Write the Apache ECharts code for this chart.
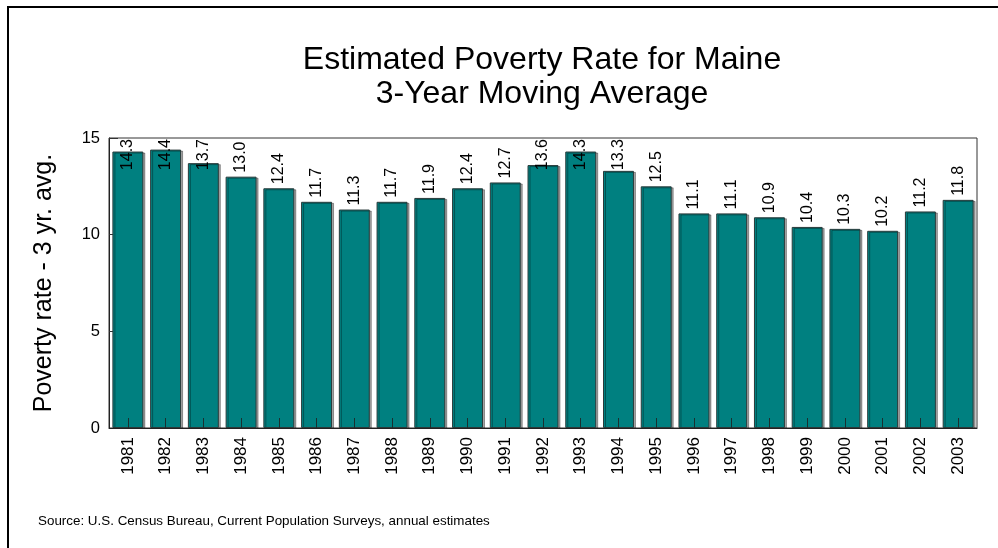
<!DOCTYPE html>
<html>
<head>
<meta charset="utf-8">
<script src="https://cdn.jsdelivr.net/npm/echarts@6/dist/echarts.min.js"></script>
<style>
  html, body { margin: 0; padding: 0; background: #fff; }
  #chart01 { width: 998px; height: 548px; }
</style>
</head>
<body>
<div id="chart01"></div>
<script>
// data
var years = ["1981", "1982", "1983", "1984", "1985", "1986", "1987", "1988", "1989", "1990", "1991", "1992",
             "1993", "1994", "1995", "1996", "1997", "1998", "1999", "2000", "2001", "2002", "2003"];
var rates = [14.3, 14.4, 13.7, 13.0, 12.4, 11.7, 11.3, 11.7, 11.9, 12.4, 12.7, 13.6,
             14.3, 13.3, 12.5, 11.1, 11.1, 10.9, 10.4, 10.3, 10.2, 11.2, 11.8];
var yTicks = [0, 5, 10, 15];

var font = "Liberation Sans, Arial, sans-serif";
var plotTop = 138;

var myChart01 = echarts.init(document.getElementById('chart01'));
var option = {
    animation: false,
    textStyle: { fontFamily: font, color: "#000" },
    title: {
        text: "Estimated Poverty Rate for Maine\n3-Year Moving Average",
        left: 537,
        top: 38,
        textAlign: "center",
        textStyle: { fontFamily: font, fontSize: 32, fontWeight: "normal", color: "#000", lineHeight: 34 }
    },
    graphic: [
        {
            type: "rect",
            shape: { x: 8, y: 7, width: 1000, height: 560 },
            style: { fill: null, stroke: "#000", lineWidth: 2 },
            silent: true
        },
        {
            type: "text",
            left: 38,
            top: 515,
            style: {
                text: "Source: U.S. Census Bureau, Current Population Surveys, annual estimates",
                fontFamily: font,
                fontSize: 13.4,
                fill: "#000"
            }
        }
    ],
    grid: {
        left: 109,
        right: 21,
        top: plotTop,
        bottom: 120,
        show: true,
        borderColor: "#333",
        borderWidth: 1,
        backgroundColor: "#fff"
    },
    xAxis: [
        {
            type: "category",
            data: years,
            z: 10,
            axisLine: { lineStyle: { color: "#222", width: 1 } },
            axisTick: { show: true, inside: true, alignWithLabel: true, length: 10, lineStyle: { color: "#1a3030", width: 1 } },
            axisLabel: { rotate: 90, fontSize: 17, color: "#000", margin: 9, fontFamily: font }
        }
    ],
    yAxis: [
        {
            type: "value",
            min: yTicks[0],
            max: yTicks[yTicks.length - 1],
            interval: 5,
            name: "Poverty rate - 3 yr. avg.",
            nameLocation: "middle",
            nameRotate: 90,
            nameGap: 52,
            nameTextStyle: { fontSize: 25, color: "#000", fontFamily: font },
            axisLine: { show: true, lineStyle: { color: "#222", width: 1 } },
            axisTick: { show: true, inside: true, length: 9, lineStyle: { color: "#333" } },
            axisLabel: { fontSize: 16.5, color: "#000", margin: 9, fontFamily: font },
            splitLine: { show: false }
        }
    ],
    series: [
        {
            name: "Poverty rate",
            type: "bar",
            data: rates,
            barCategoryGap: "18%",
            itemStyle: {
                color: "#008080",
                borderColor: "#2a3a3a",
                borderWidth: 1,
                shadowColor: "rgba(0,0,0,0.35)",
                shadowOffsetX: 2,
                shadowOffsetY: 1,
                shadowBlur: 0
            },
            label: {
                show: true,
                position: "top",
                rotate: 90,
                align: "left",
                verticalAlign: "middle",
                distance: 4,
                fontSize: 16,
                color: "#000",
                fontFamily: font,
                formatter: function (p) { return p.value.toFixed(1); }
            },
            // keep labels of the tall bars inside the plot, as the original does
            labelLayout: function (params) {
                var r = params.labelRect;
                if (r.y < plotTop + 1) {
                    return {
                        x: r.x + r.width / 2,
                        y: plotTop + 1 + r.height
                    };
                }
            }
        }
    ]
};
myChart01.setOption(option);
</script>
</body>
</html>
